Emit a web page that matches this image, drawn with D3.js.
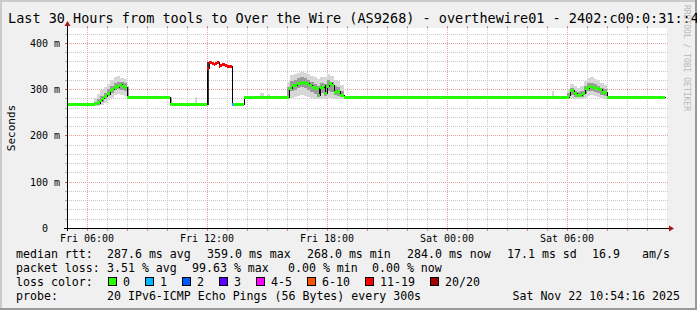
<!DOCTYPE html>
<html>
<head>
<meta charset="utf-8">
<script src="https://cdn.jsdelivr.net/npm/d3@7"></script>
<style>
  html, body { margin: 0; padding: 0; background: #f0f0f0; }
  svg { display: block; font-family: "DejaVu Sans Mono", monospace; }
</style>
</head>
<body>
<svg id="chart" width="697" height="310"></svg>
<script>
// ---- data ----
const titleText = "Last 30 Hours from tools to Over the Wire (AS9268) - overthewire01 - 2402:c00:0:31::4";
const yTicks = [0, 100, 200, 300, 400];            // ms
const xTicks = ["Fri 06:00", "Fri 12:00", "Fri 18:00", "Sat 00:00", "Sat 06:00"];

const lossLabels = ["0", "1", "2", "3", "4-5", "6-10", "11-19", "20/20"];
const lossColors = ["#26ff00", "#00b8ff", "#0059ff", "#5e00ff", "#ff00ff", "#ff5500", "#ff0000", "#a00000"];

// median rtt steps: [start, ms, pings lost of 20]; each holds until the next one
const medianSteps = [
  ["Fri 05:00", 268, 0],
  ["Fri 06:25", 270, 0], ["Fri 06:30", 272, 0], ["Fri 06:35", 271, 0], ["Fri 06:40", 277, 0],
  ["Fri 06:45", 280, 0], ["Fri 06:50", 285, 0], ["Fri 06:55", 286, 0], ["Fri 07:00", 292, 0],
  ["Fri 07:05", 290, 0], ["Fri 07:10", 298, 0], ["Fri 07:15", 300, 0], ["Fri 07:20", 305, 0],
  ["Fri 07:25", 308, 0], ["Fri 07:30", 304, 0], ["Fri 07:35", 310, 0], ["Fri 07:40", 312, 0],
  ["Fri 07:45", 306, 0], ["Fri 07:50", 308, 0], ["Fri 07:55", 305, 0],
  ["Fri 08:00", 284, 0],
  ["Fri 10:10", 268, 0],
  ["Fri 12:00", 346, 15], ["Fri 12:05", 358, 15], ["Fri 12:10", 359, 15], ["Fri 12:15", 356, 15],
  ["Fri 12:20", 355, 15], ["Fri 12:25", 357, 14], ["Fri 12:30", 358, 15], ["Fri 12:35", 351, 15],
  ["Fri 12:40", 352, 15], ["Fri 12:45", 354, 15], ["Fri 12:50", 354, 15], ["Fri 12:55", 353, 15],
  ["Fri 13:00", 351, 15], ["Fri 13:05", 351, 15], ["Fri 13:10", 350, 15],
  ["Fri 13:15", 268, 1],
  ["Fri 13:20", 268, 0],
  ["Fri 13:50", 284, 0],
  ["Fri 16:05", 302, 0], ["Fri 16:10", 302, 0], ["Fri 16:15", 309, 0], ["Fri 16:20", 309, 0],
  ["Fri 16:25", 309, 0], ["Fri 16:30", 313, 0], ["Fri 16:35", 313, 0], ["Fri 16:40", 313, 0],
  ["Fri 16:45", 316, 0], ["Fri 16:50", 316, 0], ["Fri 16:55", 313, 0], ["Fri 17:00", 313, 0],
  ["Fri 17:05", 309, 0], ["Fri 17:10", 309, 0], ["Fri 17:15", 305, 0], ["Fri 17:20", 305, 0],
  ["Fri 17:25", 302, 0], ["Fri 17:30", 302, 0], ["Fri 17:35", 288, 0], ["Fri 17:40", 305, 0],
  ["Fri 17:45", 305, 0], ["Fri 17:50", 309, 0], ["Fri 17:55", 291, 0], ["Fri 18:00", 307, 0],
  ["Fri 18:05", 314, 0], ["Fri 18:10", 314, 0], ["Fri 18:15", 309, 0], ["Fri 18:20", 295, 0],
  ["Fri 18:25", 295, 0], ["Fri 18:30", 297, 0], ["Fri 18:35", 297, 0], ["Fri 18:40", 288, 0],
  ["Fri 18:45", 288, 0],
  ["Fri 18:50", 284, 0],
  ["Sat 06:05", 288, 0], ["Sat 06:10", 298, 0], ["Sat 06:15", 298, 0], ["Sat 06:20", 291, 0],
  ["Sat 06:25", 291, 0], ["Sat 06:30", 288, 0], ["Sat 06:35", 288, 0], ["Sat 06:40", 288, 0],
  ["Sat 06:45", 291, 0], ["Sat 06:50", 291, 0], ["Sat 06:55", 302, 0], ["Sat 07:00", 302, 0],
  ["Sat 07:05", 307, 0], ["Sat 07:10", 307, 0], ["Sat 07:15", 305, 0], ["Sat 07:20", 305, 0],
  ["Sat 07:25", 303, 0], ["Sat 07:30", 303, 0], ["Sat 07:35", 300, 0], ["Sat 07:40", 300, 0],
  ["Sat 07:45", 295, 0], ["Sat 07:50", 295, 0], ["Sat 07:55", 295, 0],
  ["Sat 08:00", 284, 0],
  ["Sat 10:55", 284, 0]   // last sample ends here
];

// smoke (ping spread): [start, minutes, min, low, high, max] in ms
const smokeSteps = [
  ["Fri 06:20", 10, 266, 268, 272, 282], ["Fri 06:30", 10, 266, 269, 279, 290],
  ["Fri 06:40", 10, 268, 274, 286, 298], ["Fri 06:50", 10, 272, 280, 292, 304],
  ["Fri 07:00", 10, 278, 287, 300, 312], ["Fri 07:10", 10, 284, 293, 306, 320],
  ["Fri 07:20", 10, 290, 300, 314, 326], ["Fri 07:30", 10, 292, 302, 316, 328],
  ["Fri 07:40", 10, 290, 300, 316, 324], ["Fri 07:50", 10, 288, 298, 314, 322],
  ["Fri 08:00", 5, 284, 286, 304, 306],
  ["Fri 10:10", 5, 268, 270, 282, 284],
  ["Fri 11:25", 5, 268, 268, 268, 284],
  ["Fri 12:00", 5, 268, 268, 358, 358],
  ["Fri 14:40", 10, 284, 284, 284, 292], ["Fri 15:00", 10, 284, 284, 284, 290],
  ["Fri 16:00", 10, 282, 286, 304, 316], ["Fri 16:10", 10, 284, 298, 318, 330],
  ["Fri 16:20", 10, 286, 300, 320, 334], ["Fri 16:30", 10, 288, 304, 324, 336],
  ["Fri 16:40", 10, 290, 306, 326, 338], ["Fri 16:50", 10, 288, 304, 324, 336],
  ["Fri 17:00", 10, 286, 300, 320, 332], ["Fri 17:10", 10, 284, 296, 316, 328],
  ["Fri 17:20", 10, 282, 292, 312, 326], ["Fri 17:30", 10, 280, 286, 308, 322],
  ["Fri 17:40", 10, 282, 294, 314, 326], ["Fri 17:50", 10, 280, 288, 312, 326],
  ["Fri 18:00", 10, 284, 298, 320, 332], ["Fri 18:10", 10, 284, 296, 316, 328],
  ["Fri 18:20", 10, 282, 290, 306, 320], ["Fri 18:30", 10, 282, 288, 304, 318],
  ["Fri 18:40", 10, 282, 285, 296, 310],
  ["Sat 05:15", 5, 284, 284, 284, 296],
  ["Sat 06:00", 10, 282, 285, 292, 300], ["Sat 06:10", 10, 284, 290, 302, 312],
  ["Sat 06:20", 10, 282, 286, 296, 306], ["Sat 06:30", 10, 282, 285, 294, 302],
  ["Sat 06:40", 10, 282, 286, 296, 306], ["Sat 06:50", 10, 284, 292, 308, 318],
  ["Sat 07:00", 10, 288, 298, 314, 324], ["Sat 07:10", 10, 290, 298, 314, 326],
  ["Sat 07:20", 10, 288, 296, 312, 322], ["Sat 07:30", 10, 286, 294, 308, 320],
  ["Sat 07:40", 10, 284, 290, 302, 314], ["Sat 07:50", 10, 282, 288, 300, 310]
];

const rttStats = ["287.6 ms avg", "359.0 ms max", "268.0 ms min", "284.0 ms now", "17.1 ms sd", "16.9", "am/s"];
const lossStats = ["3.51 % avg", "99.63 % max", "0.00 % min", "0.00 % now"];
const probeText = "20 IPv6-ICMP Echo Pings (56 Bytes) every 300s";
const stampText = "Sat Nov 22 10:54:16 2025";

// ---- drawing ----
const W = 697, H = 310;
const plot = { left: 67, right: 667, top: 28, bottom: 228 };
const dayDate = { Fri: "2025-11-21", Sat: "2025-11-22" };

function parseStep(s) {
  const [day, hm] = s.split(" ");
  return new Date(dayDate[day] + "T" + hm + ":00Z");
}

function lossBucket(n) {
  if (n <= 3) return n;
  if (n <= 5) return 4;
  if (n <= 10) return 5;
  if (n <= 19) return 6;
  return 7;
}

const svg = d3.select("#chart");

const x = d3.scaleUtc()
  .domain([parseStep("Fri 05:00"), parseStep("Sat 11:00")])
  .range([plot.left, plot.right]);
const y = d3.scaleLinear()
  .domain([0, 432.4])
  .range([plot.bottom, plot.top]);

const px = t => Math.round(x(t));
const py = v => Math.round(y(v));

// background + 3d frame
svg.append("rect").attr("width", W).attr("height", H).attr("fill", "#f0f0f0");
svg.append("path").attr("d", `M1,${H} V1 H${W}`).attr("fill", "none")
  .attr("stroke", "#cbcbcb").attr("stroke-width", 2);
svg.append("path").attr("d", `M0,${H - 1} H${W - 1} V0`).attr("fill", "none")
  .attr("stroke", "#999999").attr("stroke-width", 2);

// canvas
svg.append("rect")
  .attr("x", plot.left).attr("y", plot.top)
  .attr("width", plot.right - plot.left).attr("height", plot.bottom - plot.top)
  .attr("fill", "#ffffff");

const g = svg.append("g").attr("shape-rendering", "crispEdges");

// horizontal grid: minor every 20 m, major every 100 m
const yMinor = d3.range(20, 432, 20).filter(v => v % 100 !== 0);
const yMajor = yTicks.filter(v => v > 0);

g.selectAll("line.hminor").data(yMinor).enter().append("line")
  .attr("x1", plot.left).attr("x2", plot.right + 1)
  .attr("y1", d => py(d) + 0.5).attr("y2", d => py(d) + 0.5)
  .attr("stroke", "#c8c8c8").attr("stroke-dasharray", "1,1");
g.selectAll("line.hmajor").data(yMajor).enter().append("line")
  .attr("x1", plot.left).attr("x2", plot.right + 1)
  .attr("y1", d => py(d) + 0.5).attr("y2", d => py(d) + 0.5)
  .attr("stroke", "#eaa0a0").attr("stroke-dasharray", "1,1");

// vertical grid: minor every hour, major every 6 hours
const hours = d3.utcHour.range(new Date(+x.domain()[0] + 1), x.domain()[1]);
g.selectAll("line.vgrid").data(hours).enter().append("line")
  .attr("x1", d => px(d) + 0.5).attr("x2", d => px(d) + 0.5)
  .attr("y1", plot.top).attr("y2", plot.bottom)
  .attr("stroke", d => d.getUTCHours() % 6 === 0 ? "#eaa0a0" : "#c8c8c8")
  .attr("stroke-dasharray", "1,1");

// small ticks outside the canvas
g.selectAll("line.ttick").data(hours).enter().append("line")
  .attr("x1", d => px(d) + 0.5).attr("x2", d => px(d) + 0.5)
  .attr("y1", plot.top - 2).attr("y2", plot.top)
  .attr("stroke", "#e08888");
g.selectAll("line.btick").data(hours).enter().append("line")
  .attr("x1", d => px(d) + 0.5).attr("x2", d => px(d) + 0.5)
  .attr("y1", plot.bottom).attr("y2", plot.bottom + 3)
  .attr("stroke", "#e08888");
g.selectAll("line.ytick").data(yMinor.concat(yMajor)).enter().append("line")
  .attr("x1", plot.left - 2).attr("x2", plot.left)
  .attr("y1", d => py(d) + 0.5).attr("y2", d => py(d) + 0.5)
  .attr("stroke", d => d % 100 === 0 ? "#c06060" : "#b0b0b0");

// smoke
const smoke = smokeSteps.map(([t, dur, mn, lo, hi, mx]) => {
  const t0 = parseStep(t);
  const t1 = new Date(+t0 + dur * 60000);
  return { x0: px(t0), x1: px(t1), mn, lo, hi, mx };
});
g.append("g").selectAll("rect").data(smoke).enter().append("rect")
  .attr("x", d => d.x0).attr("width", d => d.x1 - d.x0)
  .attr("y", d => py(d.mx)).attr("height", d => py(d.mn) - py(d.mx) + 1)
  .attr("fill", "#d6d6d6");
g.append("g").selectAll("rect").data(smoke.filter(d => d.hi > d.lo)).enter().append("rect")
  .attr("x", d => d.x0).attr("width", d => d.x1 - d.x0)
  .attr("y", d => py(d.hi)).attr("height", d => py(d.lo) - py(d.hi) + 1)
  .attr("fill", d => (d.hi - d.lo) > 60 ? "#383838" : "#9a9a9a");

// thin black median (shows the step risers)
const stepLine = d3.line()
  .x(d => px(parseStep(d[0])) + 0.5)
  .y(d => py(d[1]) + 0.5)
  .curve(d3.curveStepAfter);
g.append("path").datum(medianSteps)
  .attr("d", stepLine)
  .attr("fill", "none").attr("stroke", "#000").attr("stroke-width", 1);

// loss coloured median, 3px
const segs = d3.pairs(medianSteps).map(([a, b]) => ({
  x0: px(parseStep(a[0])), x1: px(parseStep(b[0])), ms: a[1], lost: a[2]
}));
g.append("g").selectAll("line").data(segs).enter().append("line")
  .attr("x1", d => d.x0).attr("x2", d => d.x1)
  .attr("y1", d => py(d.ms) + 0.5).attr("y2", d => py(d.ms) + 0.5)
  .attr("stroke", d => lossColors[lossBucket(d.lost)])
  .attr("stroke-width", 3);

// axes with arrows
g.append("line").attr("x1", plot.left - 3).attr("x2", plot.right + 3)
  .attr("y1", plot.bottom + 0.5).attr("y2", plot.bottom + 0.5).attr("stroke", "#000");
g.append("line").attr("x1", plot.left + 0.5).attr("x2", plot.left + 0.5)
  .attr("y1", plot.bottom + 3).attr("y2", plot.top - 3).attr("stroke", "#000");
svg.append("path")
  .attr("d", `M${plot.right + 2},${plot.bottom - 2.5} L${plot.right + 7},${plot.bottom + 0.5} L${plot.right + 2},${plot.bottom + 3.5} Z`)
  .attr("fill", "#a81818");
svg.append("path")
  .attr("d", `M${plot.left - 2.5},${plot.top - 2} L${plot.left + 0.5},${plot.top - 7} L${plot.left + 3.5},${plot.top - 2} Z`)
  .attr("fill", "#a81818");

// y labels
const yl = svg.append("g").attr("font-size", 10).attr("fill", "#000");
yl.selectAll("text.num").data(yTicks).enter().append("text")
  .attr("x", 48).attr("y", d => py(d) + 4)
  .attr("text-anchor", "end")
  .text(d => d);
yl.selectAll("text.unit").data(yTicks.filter(d => d > 0)).enter().append("text")
  .attr("x", 54).attr("y", d => py(d) + 4)
  .text("m");

// x labels
svg.append("g").attr("font-size", 10).selectAll("text").data(xTicks).enter().append("text")
  .attr("x", d => x(parseStep(d)))
  .attr("y", 242)
  .attr("text-anchor", "middle")
  .text(d => d);

// title, axis title, watermark
svg.append("text").attr("x", 8).attr("y", 23).attr("font-size", 13.5).text(titleText);
svg.append("text")
  .attr("transform", "translate(15,128) rotate(-90)")
  .attr("text-anchor", "middle").attr("font-size", 11)
  .text("Seconds");
svg.append("text")
  .attr("transform", "translate(684,5) rotate(90)")
  .attr("font-size", 8).attr("fill", "#b8b8b8")
  .text("RRDTOOL / TOBI OETIKER");

// legend
const leg = svg.append("g").attr("font-size", 11.6).attr("xml:space", "preserve");
const rowY = [258, 272, 286, 300];
const rttX = [107, 207, 307, 407, 507, 592, 642];
const lossX = [107, 192, 288, 372];

leg.append("text").attr("x", 16).attr("y", rowY[0]).text("median rtt:");
leg.selectAll("text.rtt").data(rttStats).enter().append("text")
  .attr("x", (d, i) => rttX[i]).attr("y", rowY[0]).text(d => d);

leg.append("text").attr("x", 16).attr("y", rowY[1]).text("packet loss:");
leg.selectAll("text.loss").data(lossStats).enter().append("text")
  .attr("x", (d, i) => lossX[i]).attr("y", rowY[1]).text(d => d);

leg.append("text").attr("x", 16).attr("y", rowY[2]).text("loss color:");
let cursor = 108;
lossLabels.forEach((lab, i) => {
  leg.append("rect")
    .attr("x", cursor + 0.5).attr("y", rowY[2] - 8.5)
    .attr("width", 8).attr("height", 8)
    .attr("fill", lossColors[i]).attr("stroke", "#000").attr("stroke-width", 1)
    .attr("shape-rendering", "crispEdges");
  leg.append("text").attr("x", cursor + 15).attr("y", rowY[2]).text(lab);
  cursor += 15 + lab.length * 7 + 15;
});

leg.append("text").attr("x", 16).attr("y", rowY[3]).text("probe:");
leg.append("text").attr("x", 107).attr("y", rowY[3]).text(probeText);
leg.append("text").attr("x", 680).attr("y", rowY[3]).attr("text-anchor", "end").text(stampText);
</script>
</body>
</html>
